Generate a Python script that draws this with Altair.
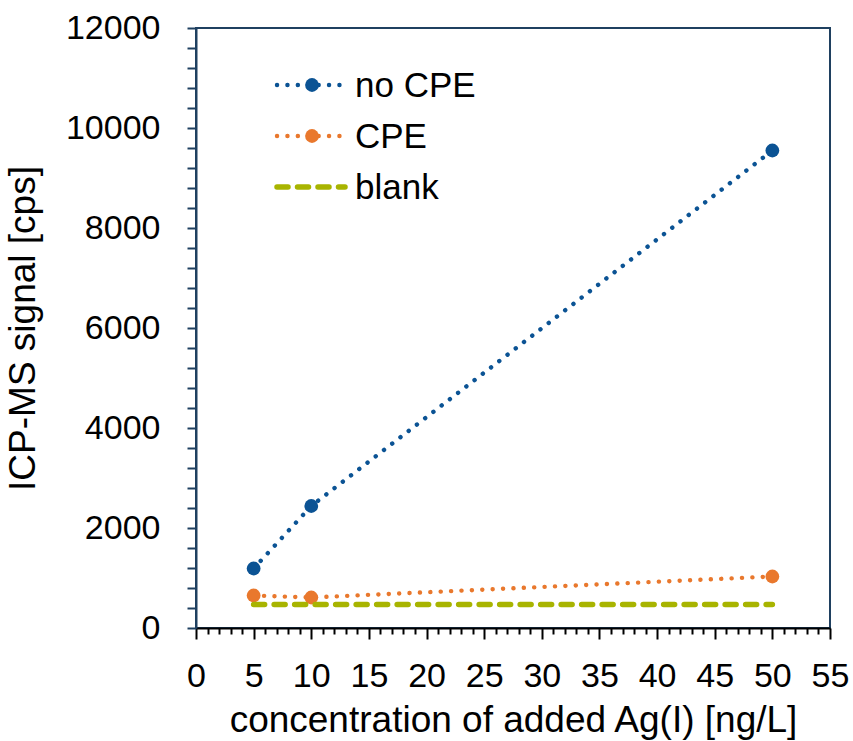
import altair as alt
import pandas as pd

# data
conc = [5, 10, 50]
no_cpe = [1190, 2440, 9550]
cpe = [650, 610, 1030]
blank = [470, 470, 470]
series_names = ["no CPE", "CPE", "blank"]
x_ticks = list(range(0, 56))
y_ticks = list(range(0, 12001, 400))

FONT = "Liberation Sans"
BLUE = "#0b5394"
ORANGE = "#e9782d"
OLIVE = "#a8b400"
FRAME = "#1f4060"
LABEL_SIZE = 34
TITLE_SIZE = 37

styles = {
    "no CPE": dict(color=BLUE, dash=[0.1, 10.3], width=4.4, points=True),
    "CPE": dict(color=ORANGE, dash=[0.1, 10.3], width=4.4, points=True),
    "blank": dict(color=OLIVE, dash=[11, 9.5], width=5.5, points=False),
}
values = {"no CPE": no_cpe, "CPE": cpe, "blank": blank}

x_enc = alt.X(
    "conc:Q",
    scale=alt.Scale(domain=[0, 55], nice=False, zero=False),
    axis=alt.Axis(
        values=x_ticks,
        tickCount=200,
        labelExpr="datum.value % 5 == 0 ? datum.label : ''",
        format="d",
        tickSize={"condition": {"test": "datum.value % 5 == 0", "value": 11}, "value": 6},
        tickColor="black",
        tickWidth=2,
        domainColor="black",
        domainWidth=2,
        labelPadding=20,
        labelFontSize=LABEL_SIZE,
        labelFont=FONT,
        labelColor="black",
        labelFlush=False,
        labelOverlap=False,
        grid=False,
        title="concentration of added Ag(I) [ng/L]",
        titleFontSize=TITLE_SIZE,
        titleFont=FONT,
        titleFontWeight="normal",
        titleColor="black",
        titlePadding=9,
    ),
)
y_enc = alt.Y(
    "val:Q",
    scale=alt.Scale(domain=[0, 12000], nice=False),
    axis=alt.Axis(
        values=y_ticks,
        tickCount=200,
        labelExpr="datum.value % 2000 == 0 ? datum.label : ''",
        format="d",
        tickSize=9,
        tickColor=FRAME,
        tickWidth=2,
        domainColor=FRAME,
        domainWidth=2,
        labelPadding=27,
        labelFontSize=LABEL_SIZE,
        labelFont=FONT,
        labelColor="black",
        labelOverlap=False,
        grid=False,
        title="ICP-MS signal [cps]",
        titleFontSize=TITLE_SIZE,
        titleFont=FONT,
        titleFontWeight="normal",
        titleColor="black",
        titlePadding=23,
    ),
)

layers = []
for i, name in enumerate(series_names):
    st = styles[name]
    df = pd.DataFrame({"conc": conc, "val": values[name], "series": name})
    enc_x = x_enc if i == 0 else alt.X("conc:Q", scale=alt.Scale(domain=[0, 55], nice=False, zero=False))
    enc_y = y_enc if i == 0 else alt.Y("val:Q", scale=alt.Scale(domain=[0, 12000], nice=False))
    line = alt.Chart(df).mark_line(
        color=st["color"], strokeDash=st["dash"], strokeWidth=st["width"], strokeCap="round"
    ).encode(x=enc_x, y=enc_y)
    layers.append(line)
    if st["points"]:
        pts = alt.Chart(df).mark_point(
            filled=True, color=st["color"], size=190, opacity=1, shape="circle"
        ).encode(x="conc:Q", y="val:Q")
        layers.append(pts)

# legend (manual, positioned in pixels inside the plot area)
leg_y = [57, 108, 159]
for name, yy in zip(series_names, leg_y):
    st = styles[name]
    ldf = pd.DataFrame({"label": [name]})
    layers.append(
        alt.Chart(ldf).mark_rule(
            color=st["color"], strokeDash=st["dash"], strokeWidth=st["width"], strokeCap="round"
        ).encode(x=alt.value(81), x2=alt.value(149), y=alt.value(yy))
    )
    if st["points"]:
        layers.append(
            alt.Chart(ldf).mark_point(filled=True, color=st["color"], size=190, opacity=1, shape="circle")
            .encode(x=alt.value(116), y=alt.value(yy))
        )
    layers.append(
        alt.Chart(ldf).mark_text(
            align="left", baseline="middle", fontSize=35, font=FONT, color="black"
        ).encode(x=alt.value(159), y=alt.value(yy + 1), text="label:N")
    )

chart = alt.layer(*layers).properties(
    width=634,
    height=600,
    autosize=alt.AutoSizeParams(type="none"),
    padding={"left": 196, "top": 28, "right": 23, "bottom": 113},
    background="white",
).configure_view(stroke=FRAME, strokeWidth=2)

chart.save("out.html", embed_options={"renderer": "svg", "actions": False})
